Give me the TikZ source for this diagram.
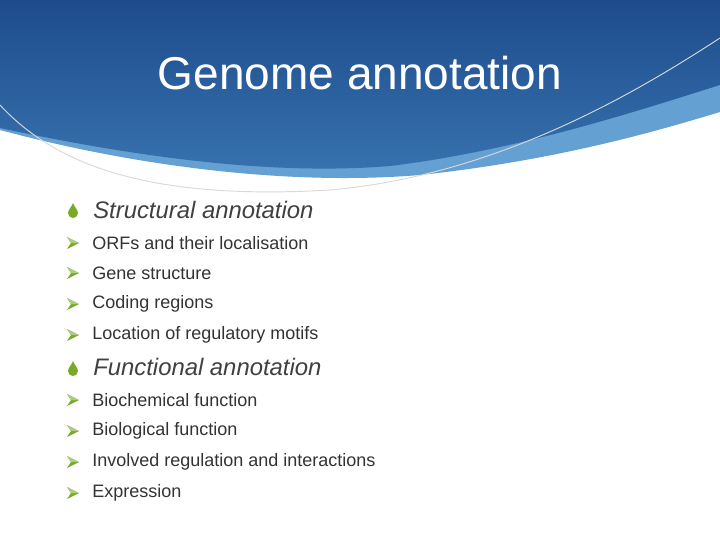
\documentclass[tikz,border=0pt]{standalone}
\usepackage{fontspec}
\setmainfont{Liberation Sans}
\begin{document}
\begin{tikzpicture}[x=0.75pt,y=-0.75pt,
  head/.style={anchor=west,font=\fontsize{17.9}{20}\selectfont\itshape,text=black!75,inner sep=0},
  item/.style={anchor=west,font=\fontsize{13.5}{15}\selectfont,text=black!80,inner sep=0}]
\useasboundingbox (0,0) rectangle (720,540);
\fill[white] (0,0) rectangle (720,540);
\definecolor{dk}{RGB}{30,75,140}
\definecolor{md}{RGB}{55,115,175}
\definecolor{lt}{RGB}{100,160,210}
\definecolor{gr}{RGB}{120,170,40}
% light band
\fill[lt] (0,0) -- (0,130) .. controls (150,170) and (300,185) .. (420,175) .. controls (560,160) and (660,130) .. (720,112) -- (720,0) -- cycle;
% dark header
\shade[top color=dk, bottom color=md] (0,0) -- (0,128) .. controls (150,160) and (280,175) .. (390,166) .. controls (520,150) and (640,110) .. (720,85) -- (720,0) -- cycle;
% faint arc
\draw[black!15,line width=0.7] (0,105) .. controls (60,170) and (160,200) .. (330,190) .. controls (500,175) and (640,90) .. (720,38);
\node[font=\fontsize{34.5}{38}\selectfont,text=white] (title) at (360,73) {Genome annotation};
\tikzset{drop/.pic={\fill[gr] (0,-8) .. controls (1.5,-4) and (5,-1) .. (5,2) .. controls (5,5) and (2.5,7) .. (0,7) .. controls (-2.5,7) and (-5,5) .. (-5,2) .. controls (-5,-1) and (-1.5,-4) .. (0,-8) -- cycle;},
 arr/.pic={\fill[gr] (-6,-6) -- (6,0) -- (-6,6) -- (-2,0) -- cycle; \fill[gr!60!white] (-6,-6) -- (6,0) -- (-2,0) -- cycle;}}
\pic at (73,211) {drop};
\pic at (73,369) {drop};
\foreach \y in {243,273,304,335,400,431,462,493} \pic at (73,\y) {arr};
\node[head] (h1) at (93,210) {Structural annotation};
\node[item] (a1) at (92,243) {ORFs and their localisation};
\node[item] (a2) at (92,273) {Gene structure};
\node[item] (a3) at (92,304) {Coding regions};
\node[item] (a4) at (92,335) {Location of regulatory motifs};
\node[head] (h2) at (93,367) {Functional annotation};
\node[item] (b1) at (92,400) {Biochemical function};
\node[item] (b2) at (92,431) {Biological function};
\node[item] (b3) at (92,462) {Involved regulation and interactions};
\node[item] (b4) at (92,493) {Expression};
\end{tikzpicture}
\end{document}
